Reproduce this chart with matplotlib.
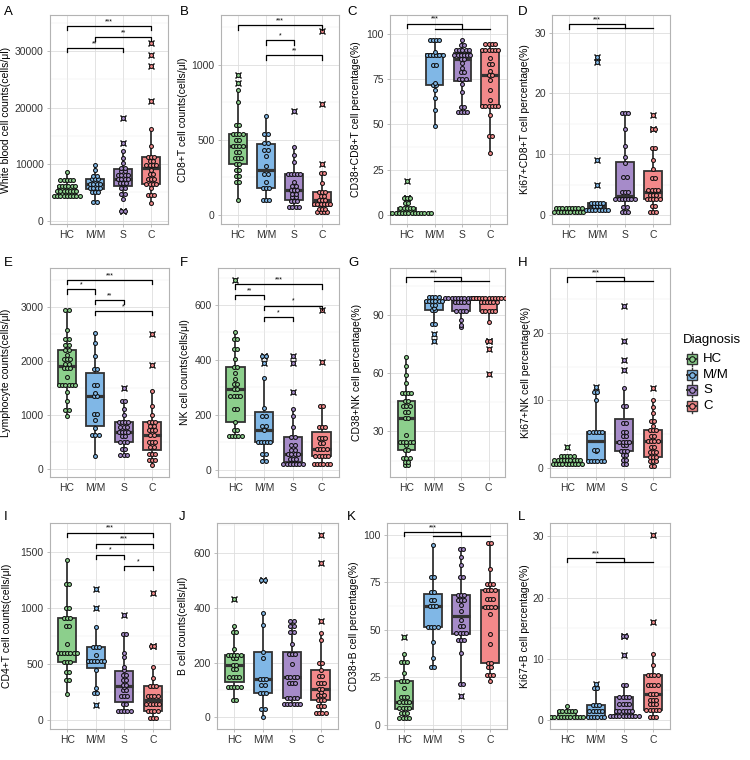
import numpy as np
import matplotlib.pyplot as plt
from matplotlib.patches import Rectangle
from matplotlib.ticker import MultipleLocator

plt.rcParams['font.family'] = ['Liberation Sans', 'DejaVu Sans']

groups = ['HC', 'M/M', 'S', 'C']
colors = ['#8ccf8c', '#80b7e6', '#a68bc9', '#f3898a']

# A  white blood cells
wbc = [
    [4300]*9 + [5300]*7 + [6200]*6 + [7200]*5 + [8600],
    [3300, 3300, 5000, 5000, 5000, 5800, 5800, 5800, 5800, 6500, 6500, 6500, 6500,
     7300, 7300, 7300, 7900, 7900, 9000, 9800],
    [1700, 1700, 3800, 4700, 4700, 5800, 5800, 6600, 6600, 6600, 7300, 7300, 7300, 7300,
     8100, 8100, 8100, 8100, 8800, 8800, 9300, 9300, 10200, 11000, 12300, 13700, 18200],
    [3100, 4600, 4600, 4600, 5700, 6500, 6500, 6500, 6500, 7400, 7400, 7400, 8200, 8200,
     9000, 9800, 9800, 9800, 9800, 10600, 10600, 11300, 11300, 11300, 13200, 16300,
     21100, 27400, 29300, 31500],
]
# B  CD8+T
cd8 = [
    [94, 217, 217, 257, 257, 298, 298, 340, 340, 380, 380, 380, 420, 420, 458, 458, 458,
     458, 497, 497, 537, 537, 537, 537, 600, 600, 750, 830, 880, 930],
    [100, 100, 100, 180, 180, 180, 220, 270, 270, 325, 390, 430, 430, 480, 480, 540, 540, 660],
    [50, 50, 50, 50, 90, 90, 90, 115, 115, 140, 140, 165, 165, 165, 190, 190, 220, 270,
     270, 270, 270, 270, 350, 400, 450, 690],
    [15, 15, 15, 15, 40, 40, 40, 70, 70, 70, 70, 70, 70, 100, 100, 100, 125, 125, 150, 150,
     150, 210, 275, 275, 340, 735, 1225],
]
# C  CD38+CD8+T %
cd38_cd8 = [
    [1.5]*16 + [4]*5 + [6.5]*2 + [9.5]*3 + [19],
    [49, 58, 64.5, 69, 71.5, 71.5, 73, 82.5, 82.5, 88, 88, 88, 88, 88, 88, 90,
     96.5, 96.5, 96.5, 96.5],
    [57, 57, 57, 57, 59.5, 59.5, 68, 72.5, 75, 75, 75, 79, 79, 81, 84, 86, 86, 88, 88, 88,
     88, 88, 88, 91, 91, 91, 91, 91, 93.5, 93.5, 96.5],
    [34, 43.5, 43.5, 55, 60, 60, 60, 60, 60, 60, 63.5, 69, 74.5, 77, 77, 79.5, 83, 83,
     86.5, 91, 91, 91, 91, 91, 91, 94, 94, 94, 94],
]
# D  Ki67+CD8+T %
ki67_cd8 = [
    [0.5]*10 + [1.2]*9,
    [0.8]*8 + [1.5]*3 + [2.0]*5 + [5.0, 9.0, 25.1, 26.0],
    [0.5, 0.5, 0.5, 1.3, 1.3, 2.6, 2.6, 2.6, 2.6, 2.6, 2.6, 2.6, 3.7, 3.7, 3.7, 6.2, 6.2,
     8.5, 9.6, 11.4, 14.1, 16.7, 16.7, 16.7],
    [0.5, 0.5, 0.5, 1.5, 1.5, 2.6, 2.6, 2.6, 2.6, 2.6, 3.3, 3.3, 3.3, 4.1, 4.1, 4.1, 4.1,
     6.1, 6.1, 7.6, 9.0, 11, 11, 14.2, 14.2, 16.5],
]
# E  lymphocytes
lym = [
    [990, 1100, 1100, 1260, 1430, 1560, 1560, 1560, 1560, 1560, 1560, 1700, 1870, 1870,
     1870, 1940, 1940, 2035, 2035, 2035, 2115, 2200, 2200, 2300, 2300, 2410, 2410, 2580,
     2950, 2950],
    [240, 630, 630, 630, 760, 910, 1030, 1030, 1350, 1350, 1420, 1560, 1560, 1860, 1860,
     2100, 2330, 2520],
    [260, 260, 260, 380, 380, 500, 500, 500, 610, 610, 690, 690, 690, 690, 780, 780, 780,
     870, 870, 870, 870, 1000, 1120, 1270, 1270, 1500],
    [75, 180, 180, 180, 280, 280, 280, 420, 420, 500, 500, 500, 640, 640, 720, 720, 720,
     800, 800, 880, 880, 880, 1000, 1170, 1440, 1930, 2510],
]
# F  NK
nk = [
    [124, 124, 124, 124, 124, 145, 145, 173, 222, 222, 268, 268, 268, 268, 293, 293, 311,
     311, 330, 354, 373, 373, 403, 440, 440, 477, 477, 500, 692],
    [32, 32, 58, 58, 100, 100, 100, 100, 100, 145, 160, 160, 194, 194, 225, 335, 387, 415, 415],
    [22]*7 + [40, 40, 40, 57, 57, 57, 57, 71, 71, 90, 90, 120, 120, 157, 194, 220, 283,
              388, 415],
    [22]*6 + [50]*5 + [74]*4 + [96]*2 + [114]*3 + [157]*3 + [231]*2 + [391, 582],
]
# G  CD38+NK %
cd38_nk = [
    [12.6, 12.6, 14.4, 14.4, 16.6, 16.6, 16.6, 20.4, 20.4, 23, 24.7, 24.7, 24.7, 24.7,
     24.7, 28.2, 37, 37, 39.8, 39.8, 43, 43, 43, 45.5, 45.5, 49.8, 49.8, 49.8, 49.8, 54.7,
     59, 63.7, 68.5],
    [76.3, 80.1, 85.3, 85.3, 92.2, 92.2, 93.5, 95, 95, 96.9, 96.9, 96.9, 96.9, 96.9, 96.9,
     99, 99, 99, 99],
    [83.5, 84.5, 87.5, 92, 92, 92, 92, 96.5, 96.5, 96.5, 96.5, 96.5] + [98.8]*11,
    [59.3, 72.3, 76.3, 76.3, 86.2, 92, 92, 92, 92, 92] + [96.5]*6 + [98.8]*11,
]
# H  Ki67+NK %
ki67_nk = [
    [0.6]*10 + [1.2]*9 + [1.75]*5 + [3.1],
    [1.1]*6 + [2.5, 2.7, 2.7] + [5.3]*5 + [10, 11.3, 11.3, 12.0],
    [0.6, 0.6, 1.25, 1.25, 1.95, 1.95, 2.6, 2.6, 2.6, 3.35, 3.35, 3.9, 3.9, 3.9, 3.9, 4.7,
     4.7, 5.3, 5.3, 6.7, 6.7, 9.2, 9.2, 11.9, 14.5, 16.0, 18.8, 24.0],
    [0.35, 0.35, 1.1, 1.1, 1.1, 1.7, 1.7, 1.7, 2.45, 2.45, 2.45, 3.1, 3.1, 3.95, 3.95,
     3.95, 3.95, 4.7, 4.7, 5.6, 5.6, 5.6, 6.2, 7.0, 7.0, 8.1, 9.1, 10.1, 11.8],
]
# I  CD4+T
cd4 = [
    [233, 360, 360, 434, 434, 517, 517, 517, 600, 600, 600, 600, 600, 600, 600, 680, 838,
     838, 906, 906, 906, 1000, 1000, 1210, 1210, 1423],
    [139, 242, 242, 286, 443, 530, 530, 530, 530, 530, 530, 585, 650, 650, 650, 833, 1000, 1163],
    [80, 80, 80, 80, 80, 148, 148, 213, 213, 213, 272, 272, 300, 316, 316, 360, 360, 404,
     404, 449, 478, 560, 596, 768, 768, 936],
    [21, 21, 21, 80, 80, 80, 80, 148, 148, 148, 148, 148, 218, 218, 218, 218, 301, 301,
     301, 375, 478, 664, 664, 1134],
]
# J  B cells
bcell = [
    [62, 62, 112, 112, 112, 112, 112, 148, 148, 148, 148, 175, 175, 192, 192, 215, 215,
     228, 228, 228, 228, 228, 250, 310, 310, 333, 433],
    [0, 30, 30, 88, 88, 88, 119, 119, 140, 140, 140, 215, 240, 335, 380, 502, 502],
    [48]*6 + [72]*4 + [125]*3 + [148]*4 + [193] + [230]*3 + [266] + [312, 312, 333, 333,
                                                                      350, 350],
    [18, 18, 18, 18, 40, 40, 40, 62, 62, 62, 80, 80, 80, 92, 105, 105, 127, 127, 127, 150,
     150, 172, 200, 200, 282, 308, 351, 562, 663],
]
# K  CD38+B %
cd38_b = [
    [3.7]*4 + [6.3]*3 + [8.9]*4 + [11.9]*4 + [14.5]*3 + [19.4] + [23.2]*3 + [27.2]
    + [33.3]*3 + [37.3, 46.4],
    [30.7, 30.7, 35.1, 43.8, 51.7, 51.7, 51.7, 51.7, 62.5, 62.5, 62.5, 65.6, 65.6, 70, 70,
     77.8, 77.8, 94.4],
    [15, 21.5, 21.5, 37.7, 44.7, 44.7, 44.7, 48.5, 48.5, 48.5, 48.5, 52, 52, 55, 59.9, 63,
     65.6, 65.6, 65.6, 68.2, 68.2, 68.2, 77.5, 77.5, 84, 88.3, 92.3, 92.3],
    [22.9, 26.5, 26.5, 26.5, 30.7, 30.7, 32.5, 32.5, 42.4, 47.6, 58.1, 62, 62, 62, 62, 66,
     66, 66, 71, 71, 71, 71, 74, 74, 74, 81.7, 95.6, 95.6],
]
# L  Ki67+B %
ki67_b = [
    [0.5]*11 + [1.5]*6 + [2.3],
    [0.5]*6 + [1.5]*5 + [2.5]*3 + [5.3, 5.3, 6.0],
    [0.65]*10 + [1.55]*6 + [2.7]*4 + [3.9]*4 + [5.7]*2 + [10.6, 13.75, 13.75],
    [0.5, 0.5, 0.5, 1.7, 1.7, 1.7, 1.7, 1.7, 2.7, 2.7, 2.7, 3.3, 3.3, 3.3, 4.3, 4.3, 4.3,
     5.8, 5.8, 5.8, 5.8, 7.4, 7.4, 7.4, 7.4, 9.1, 10.8, 16.1, 30.2],
]

ylabels = ['White blood cell counts(cells/μl)', 'CD8+T cell counts(cells/μl)',
           'CD38+CD8+T cell percentage(%)', 'Ki67+CD8+T cell percentage(%)',
           'Lymphocyte counts(cells/μl)', 'NK cell counts(cells/μl)',
           'CD38+NK cell percentage(%)', 'Ki67+NK cell percentage(%)',
           'CD4+T cell counts(cells/μl)', 'B cell counts(cells/μl)',
           'CD38+B cell percentage(%)', 'Ki67+B cell percentage(%)']
letters = list('ABCDEFGHIJKL')
datasets = [wbc, cd8, cd38_cd8, ki67_cd8, lym, nk, cd38_nk, ki67_nk, cd4, bcell, cd38_b, ki67_b]

# significance: pairwise (x1, x2, y, label); grouped bracket ('grp', y_upper, y_lower, label)
sig = {
    'A': [(1, 4, 34470, '***'), (2, 4, 32530, '**'), (1, 3, 30580, '**')],
    'B': [(1, 4, 1264, '***'), (2, 3, 1163, '*'), (2, 4, 1063, '**')],
    'C': [('grp', 105.4, 102.6, '***')],
    'D': [('grp', 31.4, 30.7, '***')],
    'E': [(1, 4, 3506, '***'), (1, 2, 3333, '*'), (2, 3, 3135, '**'), (2, 4, 2931, '*')],
    'F': [(1, 4, 677, '***'), (1, 2, 637, '**'), (2, 4, 598, '*'), (2, 3, 557, '*')],
    'G': [('grp', 109.2, 107.4, '***')],
    'H': [('grp', 28.2, 27.6, '***')],
    'I': [(1, 4, 1668, '***'), (2, 4, 1571, '***'), (2, 3, 1473, '*'), (3, 4, 1373, '*')],
    'J': [],
    'K': [('grp', 101.4, 99.1, '***')],
    'L': [('grp', 26.5, 25.8, '***')],
}

# layout (pixels): axes left, top, width, height ; ylim ; major ticks ; label x ; letter xy
W, H = 750, 760
layout = {
    'A': ((50, 15, 118, 209), (-600, 36400), [0, 10000, 20000, 30000], 11, (4, 12)),
    'B': ((221, 15, 118, 209), (-63, 1331), [0, 500, 1000], 188, (180, 12)),
    'C': ((390, 15, 117, 209), (-4.8, 110.2), [0, 25, 50, 75, 100], 361, (347, 12)),
    'D': ((552, 15, 118, 209), (-1.5, 32.9), [0, 10, 20, 30], 530, (518, 12)),
    'E': ((50, 268, 119, 209), (-142, 3723), [0, 1000, 2000, 3000], 11, (4, 263)),
    'F': ((218, 268, 121, 209), (-27, 735), [0, 200, 400, 600], 190, (180, 263)),
    'G': ((390, 268, 115, 209), (6.6, 114), [30, 60, 90], 362, (348, 263)),
    'H': ((550, 268, 120, 209), (-1.3, 29.55), [0, 10, 20], 531, (518, 263)),
    'I': ((50, 523, 120, 206), (-77, 1754), [0, 500, 1000, 1500], 12, (4, 517)),
    'J': ((217, 523, 121, 206), (-42, 708), [0, 200, 400, 600], 188, (179, 517)),
    'K': ((387, 523, 120, 206), (-2.1, 106.1), [0, 25, 50, 75, 100], 359, (347, 517)),
    'L': ((550, 523, 120, 206), (-1.4, 32.2), [0, 10, 20, 30], 530, (518, 517)),
}


def px_rect(l, t, w, h):
    return [l / W, 1 - (t + h) / H, w / W, h / H]


def stack_dots(vals, center, dx):
    xs, ys = [], []
    for v in sorted(set(vals)):
        k = vals.count(v)
        for i in range(k):
            xs.append(center + (i - (k - 1) / 2) * dx)
            ys.append(v)
    return xs, ys


fig = plt.figure(figsize=(7.5, 7.6), dpi=100)

for letter, data, ylab in zip(letters, datasets, ylabels):
    (l, t, w, h), ylim, ticks, labx, (lx, ly) = layout[letter]
    ax = fig.add_axes(px_rect(l, t, w, h))

    bp = ax.boxplot(data, positions=[1, 2, 3, 4], widths=0.64, patch_artist=True,
                    showcaps=False, whis=1.5,
                    boxprops=dict(edgecolor='#333333', linewidth=1.3),
                    whiskerprops=dict(color='#333333', linewidth=1.3),
                    medianprops=dict(color='#333333', linewidth=2.3),
                    flierprops=dict(marker='x', markersize=5, markeredgecolor='#111111',
                                    markeredgewidth=1.0))
    for patch, col in zip(bp['boxes'], colors):
        patch.set_facecolor(col)
        patch.set_zorder(2)

    dx = 3.2 / (w / 4.2)
    for i, (vals, col) in enumerate(zip(data, colors)):
        xs, ys = stack_dots(vals, i + 1, dx)
        ax.scatter(xs, ys, s=8, facecolor=col, edgecolor='#111111', linewidth=0.75, zorder=3)

    ax.set_xlim(0.4, 4.6)
    ax.set_ylim(*ylim)
    ax.set_xticks([1, 2, 3, 4], groups)
    ax.set_yticks(ticks)
    step = ticks[1] - ticks[0]
    ax.yaxis.set_minor_locator(MultipleLocator(step / 2))
    ax.tick_params(axis='both', which='major', length=2.5, width=0.6, color='#b3b3b3',
                   labelsize=7.5, labelcolor='#333333', pad=2)
    ax.tick_params(axis='y', which='minor', length=0)
    ax.grid(True, which='major', color='#dedede', lw=0.6, zorder=0)
    ax.grid(True, which='minor', axis='y', color='#ececec', lw=0.35, zorder=0)
    ax.set_axisbelow(True)
    for sp in ax.spines.values():
        sp.set_color('#b3b3b3')
        sp.set_linewidth(0.8)

    rng = ylim[1] - ylim[0]
    tip = 0.022 * rng
    for b in sig[letter]:
        if b[0] == 'grp':
            _, yu, yl, lab = b
            ax.plot([1, 1, 3, 3], [yu - tip, yu, yu, yl], color='black', lw=0.9, zorder=4)
            ax.plot([2, 4], [yl, yl], color='black', lw=0.9, zorder=4)
            ax.text(2, yu + 0.004 * rng, lab, ha='center', va='bottom', fontsize=5, zorder=5)
        else:
            x1, x2, y, lab = b
            ax.plot([x1, x1, x2, x2], [y - tip, y, y, y - tip], color='black', lw=0.9,
                    zorder=4)
            ax.text((x1 + x2) / 2, y + 0.004 * rng, lab, ha='center', va='bottom',
                    fontsize=5, zorder=5)

    ax.set_ylabel(ylab, fontsize=7.5, color='black')
    ax.yaxis.set_label_coords((labx - l) / w, 0.5)
    fig.text(lx / W, 1 - ly / H, letter, fontsize=9.5, ha='left', va='center')

# legend
lax = fig.add_axes(px_rect(675, 325, 75, 95))
lax.set_xlim(675, 750)
lax.set_ylim(420, 325)
lax.axis('off')
lax.text(683, 340, 'Diagnosis', fontsize=9.5, va='center', ha='left')
for i, (g, col) in enumerate(zip(groups, colors)):
    y = 359 + 15.6 * i
    lax.plot([692, 692], [y - 7, y + 7], color='#333333', lw=1.0, zorder=1)
    lax.add_patch(Rectangle((687, y - 5), 10, 10, facecolor=col, edgecolor='#333333',
                            lw=1.0, zorder=2))
    lax.plot([687, 697], [y, y], color='#333333', lw=1.4, zorder=3)
    lax.scatter([692], [y], s=16, facecolor=col, edgecolor='#111111', lw=0.8, zorder=4)
    lax.text(703, y, g, fontsize=9.5, va='center', ha='left')

fig.savefig('out.png', dpi=100)
